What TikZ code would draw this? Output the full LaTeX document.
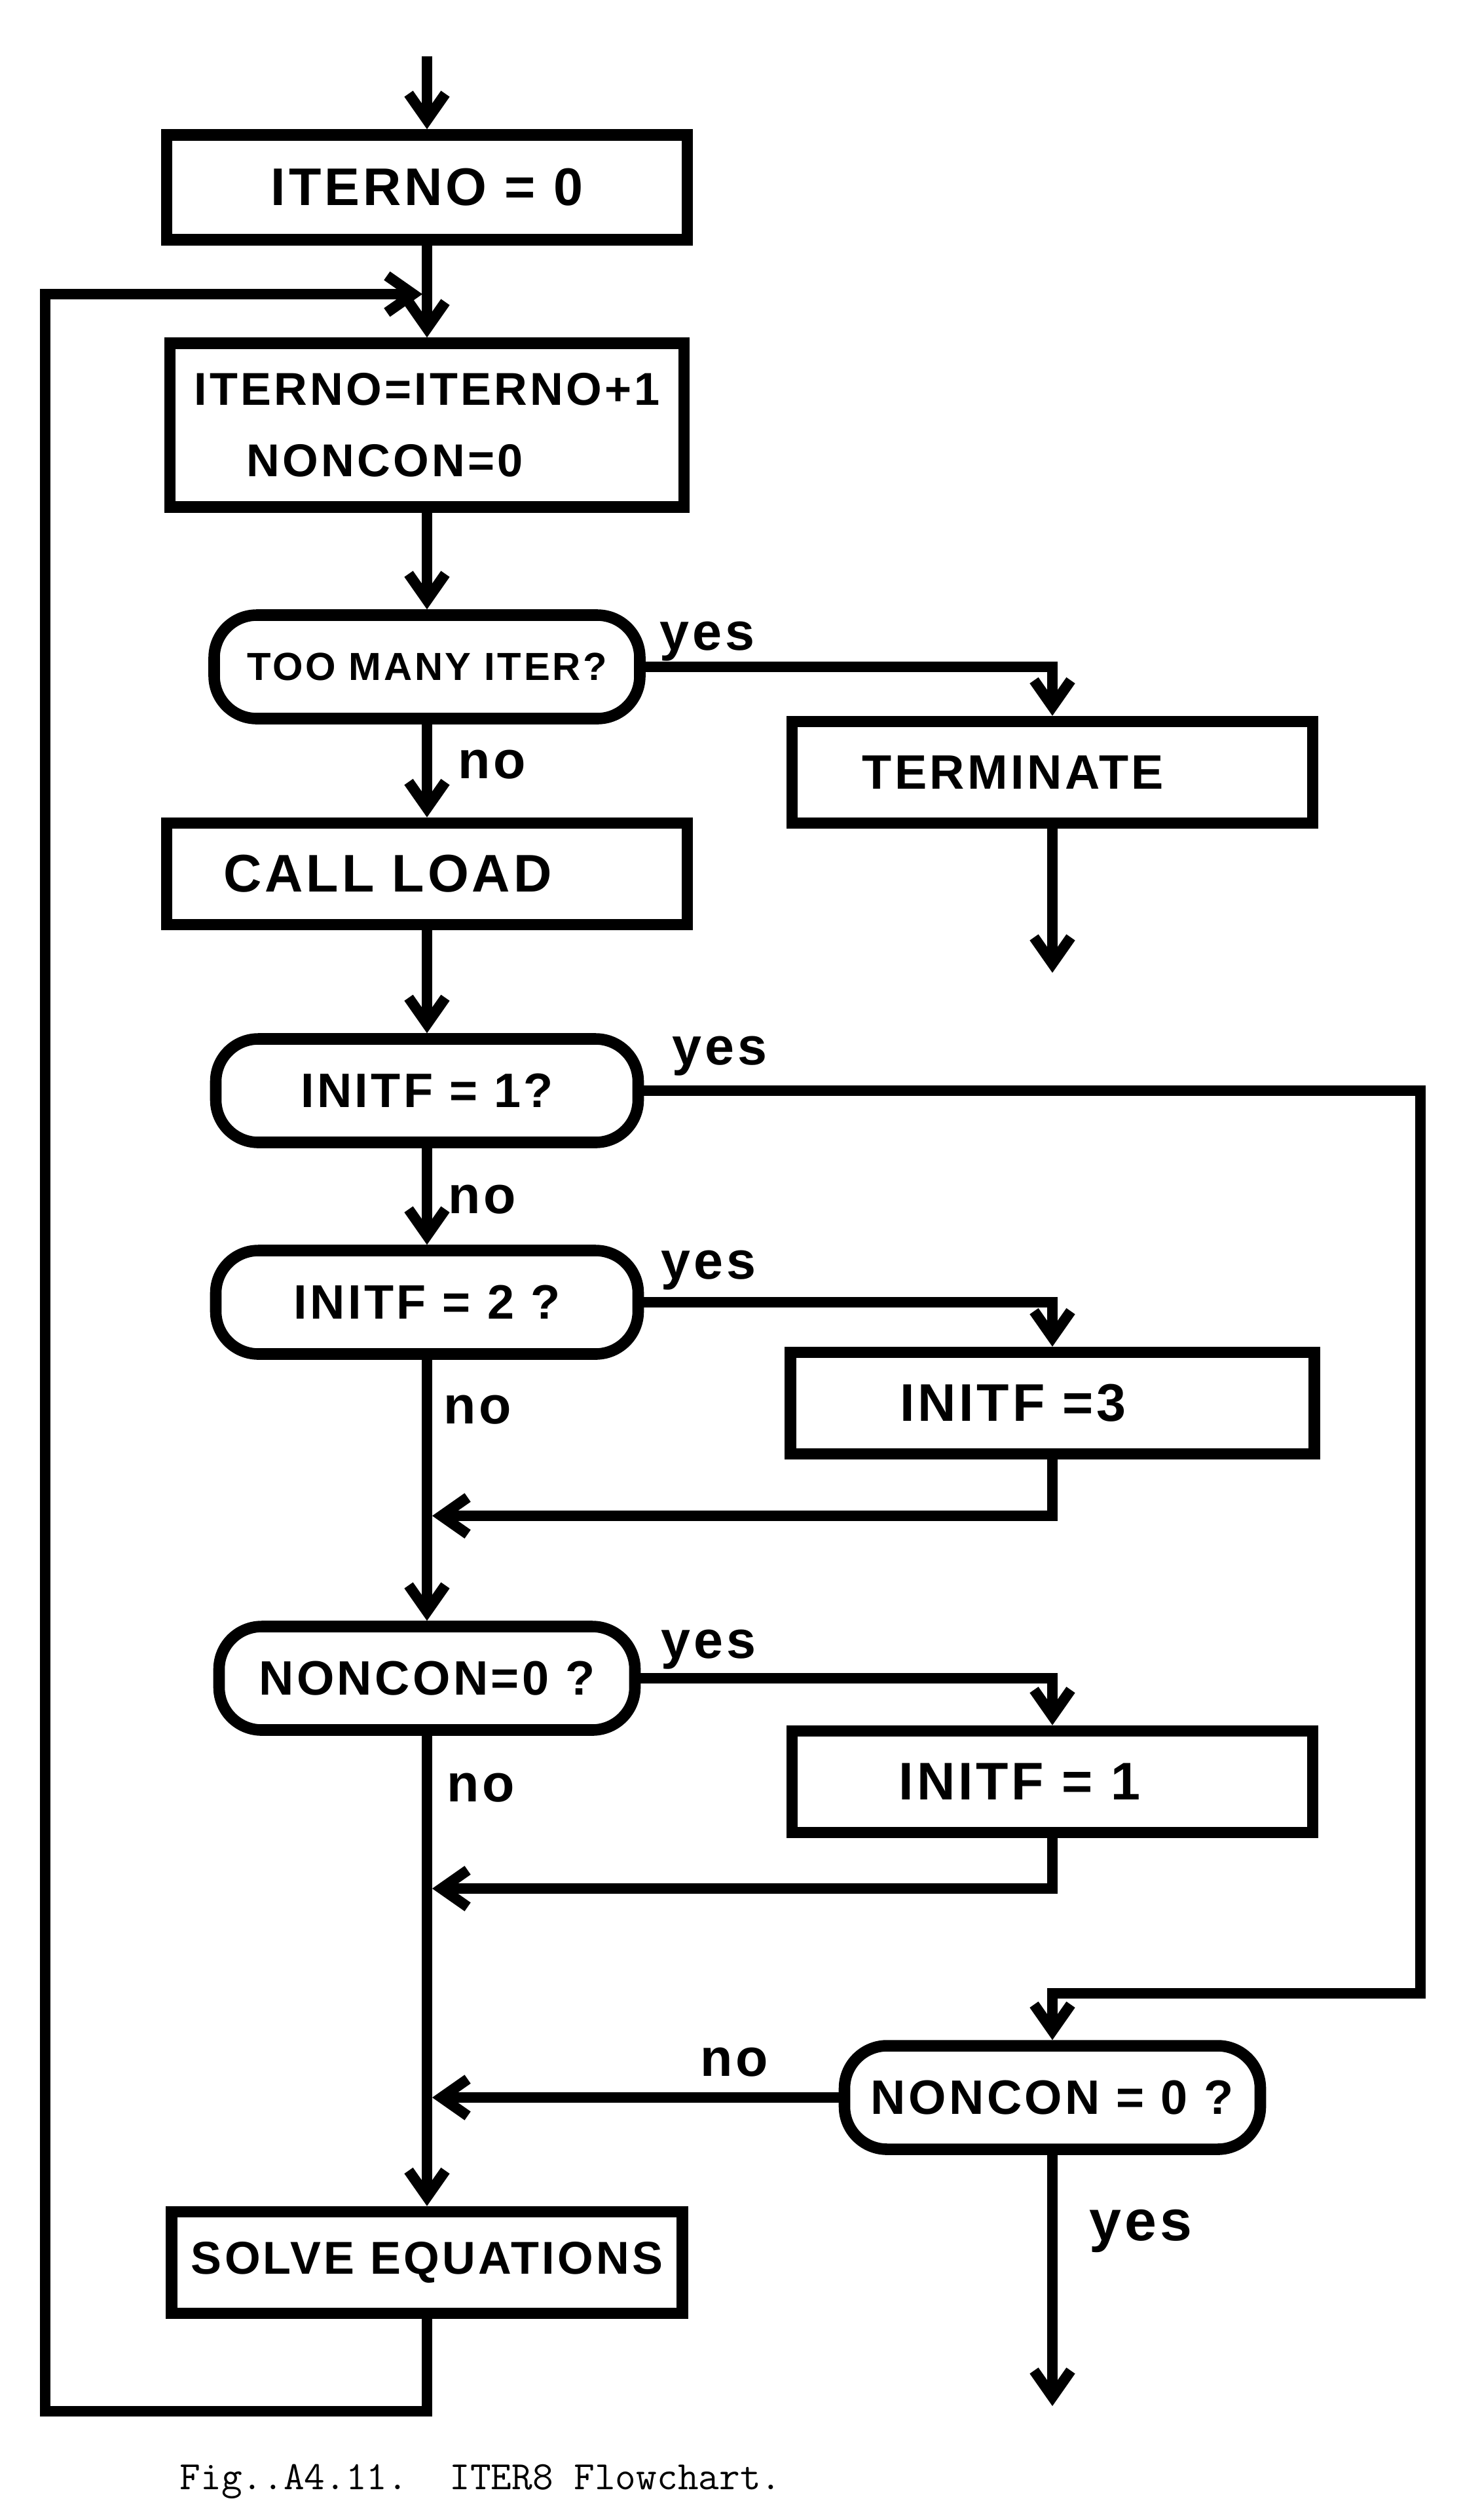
\documentclass[tikz,border=0pt]{standalone}
\usepackage{fontspec}
\usepackage{tikz}
\usetikzlibrary{arrows.meta}
\newfontfamily\handfont[LetterSpace=6]{Liberation Sans}
\newcommand{\handsize}[1]{\handfont\bfseries\fontsize{#1}{#1}\selectfont}

\begin{document}
\begin{tikzpicture}[
    >={Straight Barb[length=4mm,width=5.6mm]},
    line width=4.6pt,
    procbox/.style={draw, line width=5pt, minimum height=1.55cm, inner sep=0pt,
                    font=\handsize{23}},
    decision/.style={draw, line width=5pt, rounded corners=6.5mm, minimum height=1.58cm,
                     inner sep=0pt, font=\handsize{21}},
    answer/.style={font=\handsize{23}},
    flow/.style={->, line width=4.6pt}
  ]
  \useasboundingbox (0,0) rectangle (22.33,-38.47);

  % main column
  \coordinate (entry) at (6.52,-0.86);
  \node[procbox, minimum width=7.95cm, minimum height=1.6cm] (iterno) at (6.52,-2.86) {ITERNO = 0};
  \coordinate (loopin) at (6.45,-4.49);
  \node[procbox, minimum width=7.85cm, minimum height=2.5cm, align=left,
        font=\handfont\bfseries\fontsize{20}{31}\selectfont] (incr) at (6.52,-6.49)
       {ITERNO=ITERNO+1\\\hspace*{0.8cm}NONCON=0};
  \node[decision, minimum width=6.5cm, font=\handsize{17}] (toomany) at (6.52,-10.18) {TOO MANY ITER?};
  \node[procbox, minimum width=7.95cm] (callload) at (6.52,-13.34) {CALL LOAD\hspace*{1.2cm}};
  \node[decision, minimum width=6.45cm] (initf1) at (6.52,-16.65) {INITF = 1?};
  \node[decision, minimum width=6.45cm] (initf2) at (6.52,-19.88) {INITF = 2 ?};
  \node[decision, minimum width=6.35cm] (noncon1) at (6.52,-25.62) {NONCON=0 ?};
  \node[procbox, minimum width=7.8cm, font=\handsize{20}] (solve) at (6.52,-34.54) {SOLVE EQUATIONS};
  \coordinate (loopcorner) at (0.69,-36.81);

  % right column
  \node[procbox, minimum width=7.95cm, font=\handsize{21}] (term) at (16.07,-11.79) {TERMINATE\hspace*{1.2cm}};
  \coordinate (termout) at (16.07,-14.85);
  \node[procbox, minimum width=8.0cm] (setthree) at (16.07,-21.42) {INITF =3\hspace*{1.2cm}};
  \node[procbox, minimum width=7.95cm] (setone) at (16.07,-27.20) {INITF = 1\hspace*{1.0cm}};
  \coordinate (farright) at (21.69,-30.43);
  \node[decision, minimum width=6.35cm] (lastchk) at (16.07,-32.02) {NONCON = 0 ?};
  \coordinate (exit) at (16.07,-36.73);

  \coordinate (join1) at (6.6,-23.14);
  \coordinate (join2) at (6.6,-28.83);
  \coordinate (join3) at (6.6,-32.02);

  \draw[flow] (entry) -- (iterno);
  \draw[flow] (iterno) -- (incr);
  \draw[flow] (solve) |- (loopcorner) |- (loopin);
  \draw[flow] (incr) -- (toomany);
  \draw[flow] (toomany.east) -| (term);
  \draw[flow] (term) -- (termout);
  \draw[flow] (toomany) -- (callload);
  \draw[flow] (callload) -- (initf1);
  \draw[flow] (initf1.east) -| (farright) -| (lastchk);
  \draw[flow] (initf1) -- (initf2);
  \draw[flow] (initf2.east) -| (setthree);
  \draw[flow] (setthree) |- (join1);
  \draw[flow] (initf2) -- (noncon1);
  \draw[flow] (noncon1.east) -| (setone);
  \draw[flow] (setone) |- (join2);
  \draw[flow] (noncon1) -- (solve);
  \draw[flow] (lastchk) -- (join3);
  \draw[flow] (lastchk) -- (exit);

  % branch labels
  \node[answer] (yesA) at (10.80,-9.79) {yes};
  \node[answer] (noA) at (7.51,-11.67) {no};
  \node[answer] (yesB) at (10.99,-16.12) {yes};
  \node[answer] (noB) at (7.36,-18.31) {no};
  \node[answer] (yesC) at (10.82,-19.39) {yes};
  \node[answer] (noC) at (7.29,-21.52) {no};
  \node[answer] (yesD) at (10.82,-25.18) {yes};
  \node[answer] (noD) at (7.34,-27.29) {no};
  \node[answer] (noE) at (11.21,-31.48) {no};
  \node[answer, font=\handsize{25}] (yesE) at (17.42,-34.06) {yes};

  \node[anchor=base west, font=\ttfamily\fontsize{17.5}{20}\selectfont] (caption) at (2.55,-38.0)
       {Fig..A4.11.\ \ ITER8 Flowchart.};
\end{tikzpicture}
\end{document}
